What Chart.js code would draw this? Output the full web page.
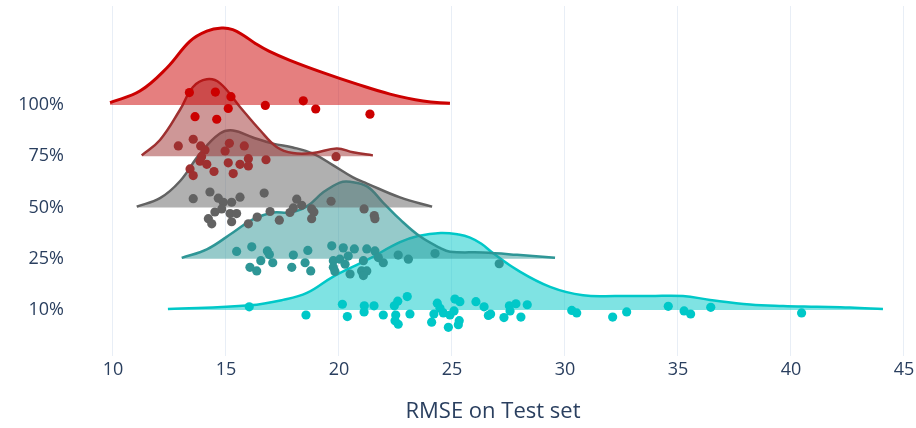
<!DOCTYPE html>
<html>
<head>
<meta charset="utf-8">
<script src="https://cdn.jsdelivr.net/npm/chart.js@4"></script>
<style>
  html, body { margin: 0; padding: 0; background: #fff; }
  #wrap { width: 916px; height: 428px; position: relative; }
</style>
</head>
<body>
<div id="wrap"><canvas id="rmseChart"></canvas></div>
<script>
// categories, bottom to top
const categories = ['10%', '25%', '50%', '75%', '100%'];
const xTickValues = [10, 15, 20, 25, 30, 35, 40, 45];

// density outlines (x = RMSE, y = height relative to the peak)
const curveX10 = [12.43, 16.06, 17.52, 18.58, 19.73, 21.24, 22.7, 23.5, 24.5, 25.3, 25.8, 26.3, 26.81, 27.88, 29.34, 30.8, 32.3, 33.76, 35.22, 36.42, 38.19, 39.65, 41.15, 42.61, 44.07];
const curveY10 = [0.01, 0.06, 0.13, 0.22, 0.43, 0.65, 0.88, 0.96, 1.0, 0.98, 0.94, 0.86, 0.74, 0.52, 0.3, 0.19, 0.18, 0.18, 0.18, 0.13, 0.07, 0.05, 0.04, 0.03, 0.01];
const curveX25 = [13.04, 14.15, 15.31, 16.19, 17.08, 17.83, 18.58, 19.29, 20.04, 20.49, 21.24, 21.95, 22.7, 23.58, 24.47, 24.91, 26.37, 27.88, 29.56];
const curveY25 = [0.01, 0.12, 0.34, 0.51, 0.6, 0.6, 0.68, 0.86, 0.99, 1.0, 0.94, 0.73, 0.51, 0.29, 0.14, 0.09, 0.08, 0.05, 0.01];
const curveX50 = [11.05, 12.08, 12.96, 13.85, 14.73, 15.31, 16.19, 17.08, 17.96, 18.85, 19.73, 20.62, 21.24, 22.7, 24.12];
const curveY50 = [0.01, 0.12, 0.34, 0.7, 0.96, 1.0, 0.91, 0.83, 0.78, 0.7, 0.55, 0.39, 0.31, 0.13, 0.01];
const curveX75 = [11.27, 12.08, 12.96, 13.54, 14.15, 14.73, 15.62, 16.5, 17.24, 17.96, 18.85, 19.9, 20.62, 21.5];
const curveY75 = [0.01, 0.21, 0.6, 0.9, 1.0, 0.95, 0.64, 0.34, 0.12, 0.04, 0.04, 0.1, 0.05, 0.01];
const curveX100 = [9.87, 11.19, 12.38, 13.41, 14.15, 14.81, 15.3, 15.8, 16.3, 16.9, 17.83, 19.29, 20.8, 22.26, 23.72, 24.91];
const curveY100 = [0.03, 0.18, 0.48, 0.83, 0.96, 1.0, 0.98, 0.9, 0.8, 0.7, 0.58, 0.42, 0.27, 0.14, 0.05, 0.02];

// individual runs: RMSE and vertical jitter (in category units)
const rmse10 = [16.03, 18.54, 20.15, 20.37, 21.12, 21.11, 21.55, 21.96, 22.45, 22.60, 23.02, 23.14, 22.51, 22.48, 22.62, 24.10, 24.20, 24.35, 24.47, 24.62, 24.84, 24.91, 25.13, 25.35, 25.09, 25.32, 25.28, 26.06, 26.42, 26.61, 26.71, 27.30, 27.54, 27.57, 27.83, 28.05, 28.33, 30.30, 30.52, 32.11, 32.73, 34.57, 35.27, 35.56, 36.45, 40.47];
const jitter10 = [0.06, -0.10, 0.11, -0.13, 0.08, -0.04, 0.08, -0.10, 0.08, 0.17, 0.26, -0.08, -0.10, -0.21, -0.28, -0.24, -0.08, 0.13, 0.03, -0.06, -0.34, -0.10, 0.21, 0.16, -0.02, -0.21, -0.29, 0.16, 0.06, -0.11, -0.08, -0.15, 0.08, -0.02, 0.12, -0.14, 0.10, -0.01, -0.06, -0.14, -0.04, 0.07, -0.02, -0.08, 0.05, -0.06];
const rmse25 = [15.47, 16.14, 16.06, 16.36, 16.54, 16.83, 16.92, 17.07, 17.98, 18.62, 18.50, 17.91, 18.75, 19.68, 20.19, 20.68, 21.23, 21.59, 19.75, 20.04, 20.41, 20.27, 19.75, 19.82, 20.49, 21.08, 21.00, 21.23, 21.08, 21.74, 21.96, 22.62, 23.07, 24.25, 27.09];
const jitter25 = [0.14, 0.23, -0.17, -0.24, -0.04, 0.15, 0.08, -0.08, 0.07, 0.16, -0.08, -0.17, -0.24, 0.25, 0.21, 0.19, 0.19, 0.15, -0.04, -0.01, 0.05, -0.11, -0.17, -0.25, -0.30, -0.04, -0.24, -0.24, -0.33, 0.02, -0.08, 0.07, -0.01, 0.10, -0.10];
const rmse50 = [13.55, 14.29, 14.66, 14.88, 14.81, 14.51, 14.22, 14.37, 15.25, 15.62, 15.18, 15.47, 15.25, 15.99, 16.38, 16.69, 16.95, 17.36, 17.83, 17.98, 18.13, 18.35, 18.79, 18.89, 18.79, 19.65, 21.11, 21.56, 21.59];
const jitter50 = [0.17, 0.30, 0.18, 0.10, -0.03, -0.09, -0.22, -0.32, 0.10, 0.20, -0.12, -0.12, -0.28, -0.32, -0.19, 0.28, -0.08, -0.25, -0.10, -0.01, 0.16, 0.04, -0.03, -0.09, -0.22, 0.12, -0.03, -0.16, -0.22];
const rmse75 = [12.89, 13.55, 13.88, 14.07, 13.92, 13.85, 14.15, 13.41, 13.55, 14.47, 15.15, 14.96, 15.81, 15.10, 15.32, 15.62, 15.99, 15.99, 16.77, 19.87];
const jitter75 = [0.20, 0.33, 0.20, 0.12, -0.01, -0.10, -0.16, -0.25, -0.38, -0.30, 0.25, 0.10, 0.20, -0.13, -0.34, -0.16, -0.05, -0.19, -0.07, -0.01];
const rmse100 = [13.38, 14.53, 15.22, 15.10, 13.63, 14.59, 16.74, 18.42, 18.97, 21.37];
const jitter100 = [0.24, 0.25, 0.16, -0.07, -0.23, -0.28, -0.01, 0.08, -0.08, -0.18];

const seriesColors = ['0, 200, 200', '46, 150, 150', '98, 98, 98', '158, 48, 48', '204, 0, 0'];
const violinHeight = 1.5;
const textColor = '#2a3f5f';
const fontFamily = '"Open Sans", sans-serif';

document.addEventListener('DOMContentLoaded', () => {
  initRmseChart();
});

function initRmseChart() {
  const ctx = document.getElementById('rmseChart');
  if (!ctx) return;

  const groups = [
    { cx: curveX10, cy: curveY10, px: rmse10, py: jitter10 },
    { cx: curveX25, cy: curveY25, px: rmse25, py: jitter25 },
    { cx: curveX50, cy: curveY50, px: rmse50, py: jitter50 },
    { cx: curveX75, cy: curveY75, px: rmse75, py: jitter75 },
    { cx: curveX100, cy: curveY100, px: rmse100, py: jitter100 }
  ];

  const datasets = [];
  groups.forEach((g, k) => {
    const rgb = seriesColors[k];
    // top category is drawn last (lowest order ends up on top)
    datasets.push({
      type: 'line',
      label: categories[k],
      data: g.cx.map((x, i) => ({ x: x, y: k + g.cy[i] * violinHeight })),
      borderColor: `rgb(${rgb})`,
      backgroundColor: `rgba(${rgb}, 0.5)`,
      borderWidth: k === 4 ? 3 : 2.5,
      fill: { value: k },
      pointRadius: 0,
      tension: 0.4,
      order: 2 * (4 - k) + 1
    });
    datasets.push({
      type: 'scatter',
      label: categories[k] + ' runs',
      data: g.px.map((x, i) => ({ x: x, y: k + g.py[i] })),
      backgroundColor: `rgb(${rgb})`,
      borderWidth: 0,
      pointRadius: 4.6,
      order: 2 * (4 - k)
    });
  });

  new Chart(ctx, {
    type: 'line',
    data: { datasets: datasets },
    options: {
      responsive: true,
      maintainAspectRatio: false,
      animation: false,
      layout: { padding: { top: 6, right: 10, left: 0, bottom: 0 } },
      plugins: {
        legend: { display: false },
        tooltip: { enabled: false }
      },
      scales: {
        x: {
          type: 'linear',
          min: 8.54,
          max: 45.09,
          afterFit: (scale) => {
            scale.height = 72;
            scale.paddingLeft = 0;
            scale.paddingRight = 0;
          },
          afterBuildTicks: (scale) => { scale.ticks = xTickValues.map(v => ({ value: v })); },
          grid: { color: '#E8EEF6', lineWidth: 1, drawTicks: false },
          border: { display: false },
          ticks: {
            color: textColor,
            padding: 3,
            font: { family: fontFamily, size: 18 }
          },
          title: {
            display: true,
            text: 'RMSE on Test set',
            color: textColor,
            padding: { top: 0, bottom: 3 },
            font: { family: fontFamily, size: 22 }
          }
        },
        y: {
          type: 'linear',
          min: -0.9,
          max: 5.93,
          afterFit: (scale) => {
            scale.width = 80;
            scale.paddingTop = 0;
            scale.paddingBottom = 0;
          },
          afterBuildTicks: (scale) => { scale.ticks = categories.map((c, i) => ({ value: i })); },
          grid: { display: false, drawTicks: false },
          border: { display: false },
          ticks: {
            color: textColor,
            padding: 16,
            font: { family: fontFamily, size: 18 },
            callback: function(value) {
              return categories[value] ?? '';
            }
          }
        }
      }
    }
  });
}
</script>
</body>
</html>
